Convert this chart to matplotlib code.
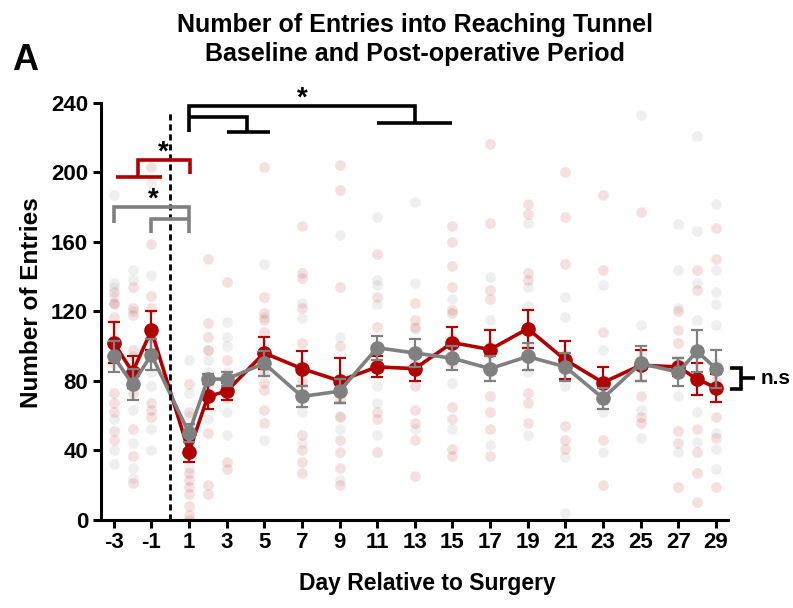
import numpy as np
import matplotlib.pyplot as plt

plt.rcParams['font.family'] = ['Liberation Sans', 'DejaVu Sans']
plt.rcParams['font.weight'] = 'bold'
plt.rcParams['axes.unicode_minus'] = False

RED = '#b00000'
GREY = '#808080'

days = [-3, -2, -1, 1, 2, 3, 5, 7, 9, 11, 13, 15, 17, 19, 21, 23, 25, 27, 28, 29]

red_mean = [102, 85, 109, 39, 71, 74, 96, 87, 80, 88, 87, 102, 98, 110, 92, 79, 89, 88, 81, 76]
red_sem = [12, 9, 11, 6, 7, 5, 9, 10, 13, 6, 7, 9, 11, 11, 11, 9, 9, 5, 9, 8]
grey_mean = [94, 78, 95, 50, 81, 81, 90, 71, 74, 99, 96, 93, 87, 94, 88, 70, 90, 85, 97, 87]
grey_sem = [9, 9, 9, 5, 3, 4, 7, 6, 7, 7, 8, 7, 7, 8, 8, 6, 10, 8, 12, 11]

# individual animals, one list per day
red_points = [
    [131, 125, 124, 117, 100, 95, 73, 67, 62, 51, 46],
    [134, 122, 118, 98, 85, 73, 52, 37, 21],
    [203, 159, 129, 122, 105, 67, 63, 59],
    [78, 62, 50, 38, 27, 23, 19, 15, 8, 3, 0],
    [150, 113, 105, 98, 70, 50, 20, 15],
    [137, 92, 80, 70, 33, 29],
    [203, 128, 119, 115, 108, 85, 79, 75, 63, 56],
    [169, 142, 139, 122, 102, 80, 49, 40, 33, 27],
    [204, 190, 134, 100, 70, 59, 46, 39, 30, 20],
    [153, 128, 111, 90, 62, 58, 39],
    [125, 115, 111, 90, 77, 63, 56, 46, 25],
    [169, 160, 146, 134, 121, 119, 90, 65, 58, 41, 37],
    [216, 171, 132, 127, 100, 71, 62, 52, 37],
    [182, 176, 142, 138, 110, 73, 67, 56],
    [200, 174, 147, 95, 54, 46, 41],
    [187, 144, 108, 80, 46, 20],
    [177, 90, 71, 59, 56],
    [120, 109, 102, 85, 51, 44, 19],
    [144, 132, 80, 52, 39, 27, 10],
    [168, 150, 80, 59, 47, 19],
]
grey_points = [
    [187, 136, 134, 128, 112, 105, 90, 58, 40, 32],
    [144, 138, 120, 94, 80, 63, 44, 30, 24],
    [194, 141, 110, 95, 85, 77, 52, 40],
    [92, 73, 60, 52, 45, 30],
    [98, 92, 85, 77, 58],
    [114, 105, 100, 85, 62, 49],
    [147, 117, 100, 90, 46],
    [125, 116, 90, 70, 62, 44],
    [164, 105, 80, 60, 52, 23],
    [174, 138, 135, 124, 100, 77, 67, 49],
    [183, 136, 110, 95, 52],
    [127, 105, 95, 79, 52],
    [140, 115, 95, 85, 43],
    [171, 134, 123, 100, 85, 49],
    [128, 117, 90, 77, 36, 4],
    [135, 98, 75, 62, 39],
    [233, 112, 95, 63, 47],
    [170, 144, 122, 90, 71, 39],
    [221, 166, 136, 115, 95, 62, 45],
    [182, 144, 131, 124, 112, 90, 50, 41, 29],
]

x_ticks = list(range(-3, 30, 2))
y_ticks = list(range(0, 241, 40))


def scatter_points(ax, pts, color):
    for d, vals in zip(days, pts):
        ax.scatter([d] * len(vals), vals, s=60, color=color, alpha=0.12,
                   linewidths=0, zorder=1)


def bracket(ax, xs, ys, color):
    ax.plot(xs, ys, color=color, lw=2.6, clip_on=False, zorder=6,
            solid_capstyle='butt', solid_joinstyle='miter')


fig = plt.figure(figsize=(7.93, 6.08), dpi=100)
ax = fig.add_axes([0.127, 0.145, 0.791, 0.686])

scatter_points(ax, grey_points, GREY)
scatter_points(ax, red_points, RED)

ax.errorbar(days, red_mean, yerr=red_sem, color=RED, lw=2.6, marker='o',
            ms=9.5, capsize=4.5, elinewidth=1.6, capthick=1.6, zorder=3)
ax.errorbar(days, grey_mean, yerr=grey_sem, color=GREY, lw=2.6, marker='o',
            ms=9.5, capsize=4.5, elinewidth=1.6, capthick=1.6, zorder=4)

# surgery day
ax.plot([0, 0], [0, 235], color='k', lw=2, dashes=(2.2, 1.4), clip_on=False, zorder=5)

# post-op comparisons (black)
bracket(ax, [1, 1, 13, 13], [223, 238, 238, 228.5], 'k')
bracket(ax, [11, 15], [228.5, 228.5], 'k')
bracket(ax, [1, 4.1, 4.1], [232, 232, 223], 'k')
bracket(ax, [3.0, 5.3], [223, 223], 'k')
ax.text(7, 235, '*', ha='center', va='bottom', fontsize=20, fontweight='bold')

# baseline vs day 1, red
bracket(ax, [-1.7, -1.7, 1.05, 1.05], [197, 207, 207, 199], RED)
bracket(ax, [-2.9, -0.45], [197, 197], RED)
ax.text(-0.35, 204, '*', ha='center', va='bottom', fontsize=20, fontweight='bold')

# baseline vs day 1, grey
bracket(ax, [-3, -3, 1, 1], [171, 180, 180, 165], GREY)
bracket(ax, [-1, -1, 1], [165, 173, 173], GREY)
ax.text(-0.9, 177, '*', ha='center', va='bottom', fontsize=20, fontweight='bold')

# day 29 comparison
bracket(ax, [29.75, 30.35, 30.35, 29.75], [87.5, 87.5, 75.5, 75.5], 'k')
bracket(ax, [30.35, 31.1], [81.5, 81.5], 'k')
ax.text(31.35, 81.5, 'n.s', ha='left', va='center', fontsize=15, fontweight='bold')

ax.set_xlim(-3.69, 29.64)
ax.set_ylim(0, 240)
ax.set_xticks(x_ticks)
ax.set_yticks(y_ticks)
ax.tick_params(width=2.2, length=6, labelsize=16, pad=3)
for lbl in ax.get_xticklabels() + ax.get_yticklabels():
    lbl.set_fontweight('bold')
for side in ['top', 'right']:
    ax.spines[side].set_visible(False)
for side in ['left', 'bottom']:
    ax.spines[side].set_linewidth(2.2)

ax.set_xlabel('Day Relative to Surgery', fontsize=16.5, fontweight='bold')
ax.xaxis.set_label_coords(0.52, -0.125)
ax.set_ylabel('Number of Entries', fontsize=17.5, fontweight='bold')
ax.yaxis.set_label_coords(-0.092, 0.52)

fig.text(0.523, 0.935, 'Number of Entries into Reaching Tunnel\nBaseline and Post-operative Period',
         ha='center', va='center', fontsize=18, fontweight='bold', linespacing=1.3)
fig.text(0.015, 0.9, 'A', ha='left', va='center', fontsize=26, fontweight='bold')

fig.savefig('out.png', dpi=100)
